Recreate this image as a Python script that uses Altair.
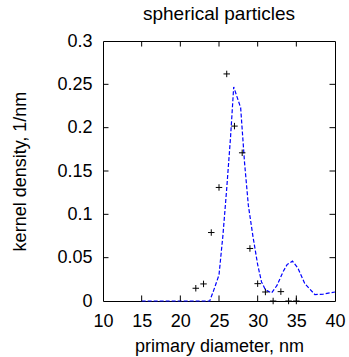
import altair as alt
import pandas as pd

# measured points (+)
pt_x = [22, 23, 24, 25, 26, 27, 28, 29, 30, 31, 32, 33, 34, 35]
pt_y = [0.0147, 0.0197, 0.079, 0.131, 0.262, 0.2018, 0.171, 0.0606, 0.020, 0.0104, 0.0, 0.0108, 0.0, 0.0]

# kernel density curve (dashed)
kd_x = [15, 23.8, 24.3, 25.0, 25.5, 26.0, 26.5, 26.9, 27.8, 28.3, 28.8, 29.4, 30.0, 30.5, 31.0,
        31.8, 32.5, 33.3, 33.8, 34.5, 35.2, 36.1, 37.4, 38.5, 40]
kd_y = [0, 0, 0.012, 0.030, 0.075, 0.13, 0.19, 0.247, 0.223, 0.16, 0.11, 0.074, 0.042, 0.022, 0.013,
        0.0093, 0.018, 0.034, 0.042, 0.046, 0.038, 0.020, 0.0074, 0.008, 0.0104]

x_ticks = [10, 15, 20, 25, 30, 35, 40]
y_ticks = [0, 0.05, 0.1, 0.15, 0.2, 0.25, 0.3]
x_inner = [15, 20, 25, 30, 35]
y_inner = [0.05, 0.1, 0.15, 0.2, 0.25]

FONT = "Liberation Sans"
W, H = 232, 260

pts = pd.DataFrame({"x": pt_x, "y": pt_y})
kd = pd.DataFrame({"x": kd_x, "y": kd_y})

xs = alt.Scale(domain=[10, 40], nice=False)
ys = alt.Scale(domain=[0, 0.3], nice=False)

xaxis = alt.Axis(values=x_ticks, title="primary diameter, nm", ticks=False, domain=False,
                 grid=False, labelPadding=11, titlePadding=7, labelFlush=False, labelOverlap=False)
yaxis = alt.Axis(values=y_ticks, title="kernel density, 1/nm", ticks=False, domain=False,
                 grid=False, format="~g", labelPadding=11, titlePadding=27, labelOverlap=False)


def X(**kw):
    return alt.X(scale=xs, axis=xaxis, **kw)


def Y(**kw):
    return alt.Y(scale=ys, axis=yaxis, **kw)


line = alt.Chart(kd).mark_line(color="#0000ff", strokeDash=[4, 2], strokeWidth=1.2).encode(
    x=X(field="x", type="quantitative"), y=Y(field="y", type="quantitative"))

plus = alt.Chart(pts).mark_point(shape="M-1,0L1,0M0,-1L0,1", size=42, filled=False,
                                 color="black", strokeWidth=1, opacity=1).encode(
    x=X(field="x", type="quantitative"), y=Y(field="y", type="quantitative"))

xt = pd.DataFrame({"x": x_inner})
yt = pd.DataFrame({"y": y_inner})
tick_style = dict(color="black", strokeWidth=1)
bot = alt.Chart(xt).mark_rule(**tick_style).encode(
    x=X(field="x", type="quantitative"), y=Y(datum=0), y2=alt.datum(0.0064))
top = alt.Chart(xt).mark_rule(**tick_style).encode(
    x=X(field="x", type="quantitative"), y=Y(datum=0.3), y2=alt.datum(0.2936))
lef = alt.Chart(yt).mark_rule(**tick_style).encode(
    y=Y(field="y", type="quantitative"), x=X(datum=10), x2=alt.datum(10.71))
rig = alt.Chart(yt).mark_rule(**tick_style).encode(
    y=Y(field="y", type="quantitative"), x=X(datum=40), x2=alt.datum(39.29))

chart = alt.layer(line, plus, bot, top, lef, rig).properties(
    width=W, height=H,
    title=alt.TitleParams("spherical particles", font=FONT, fontSize=19, fontWeight="normal",
                          color="black", offset=8, anchor="middle"),
    autosize=alt.AutoSizeParams(type="none"),
    padding={"left": 103, "top": 41, "right": 14, "bottom": 56},
).configure(background="white").configure_view(stroke="black", strokeWidth=1).configure_axis(
    labelFont=FONT, labelFontSize=18, labelColor="black", labelOverlap=False,
    titleFont=FONT, titleFontSize=18, titleColor="black", titleFontWeight="normal",
)

chart.save("out.html", embed_options={"renderer": "svg", "actions": False})
